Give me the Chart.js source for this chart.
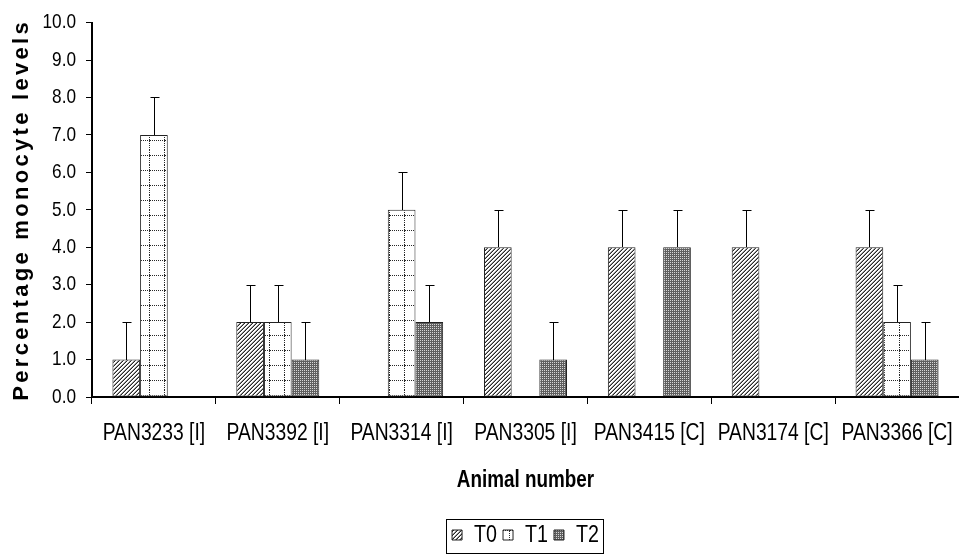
<!DOCTYPE html>
<html>
<head>
<meta charset="utf-8">
<script src="https://cdn.jsdelivr.net/npm/chart.js@4"></script>
<style>
  html, body { margin: 0; padding: 0; background: #fff; }
  #wrap { width: 959px; height: 557px; }
</style>
</head>
<body>
<div id="wrap"><canvas id="c" width="959" height="557"></canvas></div>
<script>
// Monocyte percentages per animal at three time points, each with an upper error bar
const animals = ['PAN3233 [I]', 'PAN3392 [I]', 'PAN3314 [I]', 'PAN3305 [I]', 'PAN3415 [C]', 'PAN3174 [C]', 'PAN3366 [C]'];
const seriesNames = ['T0', 'T1', 'T2'];
const t0Values = [1, 2, null, 4, 4, 4, 4];
const t1Values = [7, 2, 5, null, null, null, 2];
const t2Values = [null, 1, 2, 1, 4, null, 1];
const t0Errors = [1, 1, null, 1, 1, 1, 1];
const t1Errors = [1, 1, 1, null, null, null, 1];
const t2Errors = [null, 1, 1, 1, 1, null, 1];
const yMin = 0, yMax = 10, yStep = 1;

const SANS = "'Liberation Sans', Arial, sans-serif";

const canvas = document.getElementById('c');
const ctx2d = canvas.getContext('2d');

// Condensed lettering: text is drawn and measured with a horizontal squeeze
// (Liberation Sans at 82% width gives the narrow face used on the axes).
let squeeze = 0.82;
const rawFill = ctx2d.fillText.bind(ctx2d);
const rawMeasure = ctx2d.measureText.bind(ctx2d);
ctx2d.fillText = function (text, x, y, maxWidth) {
  if (squeeze === 1) {
    return maxWidth === undefined ? rawFill(text, x, y) : rawFill(text, x, y, maxWidth);
  }
  ctx2d.save();
  ctx2d.translate(x, y);
  ctx2d.scale(squeeze, 1);
  if (maxWidth === undefined) rawFill(text, 0, 0); else rawFill(text, 0, 0, maxWidth / squeeze);
  ctx2d.restore();
};
ctx2d.measureText = function (text) {
  const m = rawMeasure(text);
  if (squeeze === 1) return m;
  return {
    width: m.width * squeeze,
    actualBoundingBoxLeft: m.actualBoundingBoxLeft * squeeze,
    actualBoundingBoxRight: m.actualBoundingBoxRight * squeeze,
    actualBoundingBoxAscent: m.actualBoundingBoxAscent,
    actualBoundingBoxDescent: m.actualBoundingBoxDescent
  };
};

// Small bitmap tiles used as bar fills
function tile(w, h, shade) {
  const c = document.createElement('canvas');
  c.width = w; c.height = h;
  const g = c.getContext('2d');
  const img = g.createImageData(w, h);
  for (let y = 0; y < h; y++) {
    for (let x = 0; x < w; x++) {
      const v = shade(x, y);
      const k = (y * w + x) * 4;
      img.data[k] = img.data[k + 1] = img.data[k + 2] = v;
      img.data[k + 3] = 255;
    }
  }
  g.putImageData(img, 0, 0);
  return ctx2d.createPattern(c, 'repeat');
}
// forward diagonal hatching
const hatch = tile(4, 4, (x, y) => {
  const d = (x + y) % 4;
  return d === 3 ? 40 : (d === 2 ? 150 : 255);
});
// white with a dotted square grid
const dottedGrid = tile(15, 15, (x, y) => {
  if (x === 14 && y % 2 === 0) return 40;
  if (y === 5 && x % 2 === 0) return 40;
  return 255;
});
// dark dither
const dither = tile(2, 2, (x, y) => (x === 0 && y === 0) ? 215 : 95);

const fills = [hatch, dottedGrid, dither];
const valueSets = [t0Values, t1Values, t2Values];
const errorSets = [t0Errors, t1Errors, t2Errors];

const datasets = seriesNames.map((name, i) => ({
  label: name,
  data: valueSets[i],
  errorBars: errorSets[i],
  backgroundColor: fills[i],
  borderColor: '#222',
  borderWidth: 1,
  borderSkipped: false,
  categoryPercentage: 0.67,
  barPercentage: 1.0
}));

// Upper error whiskers with a short cap
const errorBarPlugin = {
  id: 'errorBars',
  afterDatasetsDraw(chart) {
    const ctx = chart.ctx;
    const ys = chart.scales.y;
    ctx.save();
    ctx.strokeStyle = '#000';
    ctx.lineWidth = 1;
    chart.data.datasets.forEach((ds, i) => {
      const meta = chart.getDatasetMeta(i);
      meta.data.forEach((bar, j) => {
        const v = ds.data[j];
        const e = ds.errorBars[j];
        if (v == null || e == null) return;
        const x = Math.round(bar.x) + 0.5;
        const top = Math.round(ys.getPixelForValue(v + e)) + 0.5;
        ctx.beginPath();
        ctx.moveTo(x, Math.round(bar.y));
        ctx.lineTo(x, top);
        ctx.moveTo(x - 4, top);
        ctx.lineTo(x + 5, top);
        ctx.stroke();
      });
    });
    ctx.restore();
  }
};

// Full-width, letter-spaced vertical axis title, and a frame round the legend
const framePlugin = {
  id: 'frames',
  afterLayout(chart) {
    const s = chart.scales.y;
    if (s && !s._spaced) {
      const orig = s.drawTitle.bind(s);
      s.drawTitle = function () {
        const ctx = this.ctx;
        ctx.save();
        ctx.letterSpacing = '3.3px';
        squeeze = 1;
        orig();
        squeeze = 0.82;
        ctx.restore();
      };
      s._spaced = true;
    }
  },
  afterDraw(chart) {
    const L = chart.legend;
    if (!L || !L.legendHitBoxes.length) return;
    const hb = L.legendHitBoxes;
    let x0 = Infinity, x1 = -Infinity, y0 = Infinity, y1 = -Infinity;
    hb.forEach(b => {
      x0 = Math.min(x0, b.left); x1 = Math.max(x1, b.left + b.width);
      y0 = Math.min(y0, b.top); y1 = Math.max(y1, b.top + b.height);
    });
    const cy = (y0 + y1) / 2;
    const ctx = chart.ctx;
    ctx.save();
    ctx.strokeStyle = '#000';
    ctx.lineWidth = 1;
    ctx.strokeRect(Math.round(x0 - 6) + 0.5, Math.round(cy - 16) + 0.5, Math.round(x1 - x0 + 10), 34);
    ctx.restore();
  }
};

new Chart(canvas, {
  type: 'bar',
  data: { labels: animals, datasets },
  plugins: [errorBarPlugin, framePlugin],
  options: {
    responsive: false,
    animation: false,
    devicePixelRatio: 1,
    layout: { padding: { left: 0, right: 0, top: 18, bottom: 0 } },
    plugins: {
      tooltip: { enabled: false },
      legend: {
        position: 'bottom',
        fullSize: false,
        labels: {
          boxWidth: 10,
          boxHeight: 10,
          padding: 6,
          color: '#000',
          font: { family: SANS, size: 24 }
        }
      }
    },
    scales: {
      x: {
        afterFit(scale) { scale.height = 120; scale.paddingRight = 0; scale.paddingLeft = 0; },
        grid: { display: true, offset: true, drawOnChartArea: false, drawTicks: true, tickLength: 7, color: '#000', lineWidth: 1 },
        border: { display: true, color: '#000', width: 2 },
        ticks: { color: '#000', padding: 15, maxRotation: 0, autoSkip: false, font: { family: SANS, size: 23.5 } },
        title: { display: true, text: 'Animal number', color: '#000', padding: { top: 0, bottom: 23 }, font: { family: SANS, size: 23, weight: 'bold' } }
      },
      y: {
        min: yMin,
        max: yMax,
        afterFit(scale) { scale.width = 92; },
        grid: { display: true, drawOnChartArea: false, drawTicks: true, tickLength: 6, color: '#000', lineWidth: 1 },
        border: { display: true, color: '#000', width: 2 },
        ticks: { stepSize: yStep, color: '#000', padding: 10, font: { family: SANS, size: 21 }, callback: v => Number(v).toFixed(1) },
        title: { display: true, text: 'Percentage monocyte levels', color: '#000', padding: { top: 9, bottom: 0 }, font: { family: SANS, size: 22, weight: 'bold' } }
      }
    }
  }
});
</script>
</body>
</html>
